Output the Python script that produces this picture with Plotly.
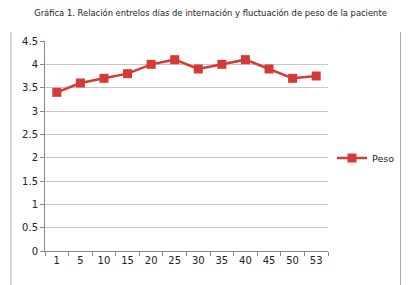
import plotly.graph_objects as go

dias = ["1", "5", "10", "15", "20", "25", "30", "35", "40", "45", "50", "53"]
peso = [3.4, 3.6, 3.7, 3.8, 4.0, 4.1, 3.9, 4.0, 4.1, 3.9, 3.7, 3.75]
titulo = "Gráfica 1. Relación entrelos días de internación y fluctuación de peso de la paciente"

# page body has an 8px default margin; compensate so the figure fills the window
OFF = 8
W, H = 413 - OFF, 285 - OFF
L, R, T, B = 45 - OFF, 85, 41 - OFF, 34
pw, ph = W - L - R, H - T - B

def px(x):
    return (x - OFF - L) / pw

def py(y):
    return (H - B - (y - OFF)) / ph

fig = go.Figure()
fig.add_trace(go.Scatter(
    x=dias, y=peso, mode="lines+markers", name="Peso",
    line=dict(color="#d63a36", width=2.5),
    marker=dict(symbol="square", size=9, color="#d63a36"),
))

fig.update_layout(
    width=W, height=H,
    margin=dict(l=L, r=R, t=T, b=B, autoexpand=False),
    paper_bgcolor="white", plot_bgcolor="white",
    font=dict(family="DejaVu Sans", size=10, color="#222"),
    title=dict(text=titulo, x=0.5, xanchor="center", y=1 - 5 / H, yanchor="middle",
               xref="container", yref="container", automargin=False,
               font=dict(family="DejaVu Sans", size=8.4, color="#222")),
    showlegend=True,
    legend=dict(x=px(332), y=py(158), xanchor="left", yanchor="middle",
                font=dict(size=9.5), bgcolor="rgba(0,0,0,0)", itemwidth=30,
                tracegroupgap=0),
    xaxis=dict(type="category", range=[-0.5, len(dias) - 0.5],
               tickson="boundaries", ticks="outside", ticklen=4,
               tickcolor="#888", showline=True, linecolor="#888", linewidth=1,
               showgrid=False, tickfont=dict(size=10), tickangle=0,
               automargin=False),
    yaxis=dict(range=[0, 4.5], dtick=0.5, tick0=0, ticks="outside", ticklen=4,
               tickcolor="#888", showline=True, linecolor="#888", linewidth=1,
               showgrid=True, gridcolor="#c8c8c8", gridwidth=1, zeroline=False,
               tickfont=dict(size=10), automargin=False),
)

for xx in (11, 400.5):
    fig.add_shape(type="line", xref="paper", yref="paper",
                  x0=px(xx), x1=px(xx), y0=py(32), y1=py(285),
                  line=dict(color="#aaa", width=1))

fig.write_html("out.html")
